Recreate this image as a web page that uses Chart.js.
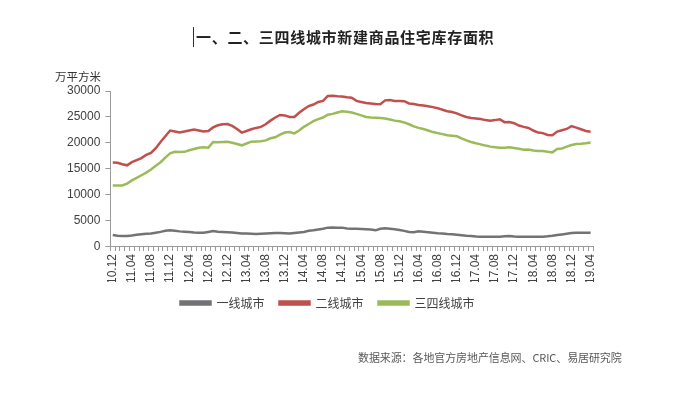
<!DOCTYPE html>
<html>
<head>
<meta charset="utf-8">
<script src="https://cdn.jsdelivr.net/npm/chart.js@4"></script>
<style>
  html, body { margin: 0; padding: 0; background: #fff; }
  #wrap { position: relative; width: 691px; height: 396px; overflow: hidden; }
  #chart { position: absolute; left: 0; top: 0; }
  .txt { position: absolute; font-family: 'Noto Sans CJK SC', 'Noto Sans', sans-serif; white-space: nowrap; }
  #title { left: 193px; top: 27px; font-size: 15px; font-weight: 700; color: #222;
           letter-spacing: 0.7px; border-left: 1px solid #333; padding-left: 2px; line-height: 20px; }
  #unit { left: 55px; top: 68px; font-size: 11.5px; color: #333; }
  #source { left: 358px; top: 349px; font-size: 11px; color: #595959; letter-spacing: -0.1px; }
</style>
</head>
<body>
<div id="wrap">
  <canvas id="chart" width="656" height="396"></canvas>
  <div class="txt" id="title">一、二、三四线城市新建商品住宅库存面积</div>
  <div class="txt" id="unit">万平方米</div>
  <div class="txt" id="source">数据来源：各地官方房地产信息网、CRIC、易居研究院</div>
</div>
<script>
// ── Data (monthly, 2010.12 → 2019.04) ─────────────────────────────────────
const months = [];
for (let y = 10; y <= 19; y++) {
  for (let m = 1; m <= 12; m++) {
    if (y === 10 && m < 12) continue;
    if (y === 19 && m > 4) break;
    months.push(y + '.' + String(m).padStart(2, '0'));
  }
}

const tier1 = [
  2290, 2150, 2090, 2100, 2200, 2350, 2450, 2550, 2600, 2750,
  2900, 3100, 3200, 3100, 3000, 2950, 2900, 2800, 2750, 2750,
  2900, 3050, 2950, 2900, 2850, 2800, 2700, 2600, 2580, 2550,
  2500, 2550, 2600, 2650, 2700, 2700, 2650, 2600, 2700, 2800,
  2900, 3100, 3200, 3350, 3500, 3720, 3750, 3700, 3720, 3550,
  3500, 3500, 3450, 3400, 3350, 3200, 3500, 3600, 3500, 3400,
  3250, 3100, 2900, 2850, 3000, 2950, 2850, 2750, 2650, 2600,
  2500, 2450, 2350, 2250, 2150, 2100, 2000, 1960, 1960, 1960,
  1960, 1980, 2050, 2100, 2000, 1980, 1960, 1960, 1960, 1960,
  1980, 2050, 2150, 2300, 2420, 2550, 2700, 2740, 2740, 2740,
  2740,
];

const tier2 = [
  16270, 16200, 15900, 15700, 16300, 16700, 17100, 17700, 18100, 19000,
  20200, 21300, 22400, 22200, 22000, 22200, 22400, 22600, 22400, 22200,
  22300, 23000, 23400, 23600, 23650, 23300, 22700, 22000, 22300, 22650,
  22900, 23100, 23600, 24300, 24900, 25400, 25300, 25000, 25000, 25800,
  26500, 27100, 27400, 27900, 28100, 29050, 29100, 29000, 28950, 28800,
  28700, 28100, 27900, 27700, 27600, 27500, 27450, 28200, 28250, 28100,
  28100, 28050, 27600, 27500, 27300, 27200, 27050, 26900, 26700, 26400,
  26100, 25950, 25700, 25300, 25000, 24800, 24700, 24600, 24400, 24300,
  24400, 24550, 24000, 24050, 23800, 23350, 23100, 22900, 22400, 22000,
  21900, 21550, 21500, 22200, 22450, 22700, 23250, 22950, 22650, 22300,
  22150,
];

const tier34 = [
  11820, 11800, 11820, 12200, 12800, 13300, 13800, 14300, 14900, 15600,
  16300, 17200, 18000, 18300, 18250, 18300, 18600, 18850, 19100, 19200,
  19100, 20200, 20150, 20200, 20250, 20050, 19800, 19550, 19900, 20250,
  20300, 20350, 20500, 20900, 21100, 21600, 22000, 22100, 21850, 22400,
  23100, 23650, 24200, 24600, 24900, 25450, 25600, 25850, 26100, 26000,
  25850, 25600, 25300, 25000, 24900, 24850, 24820, 24700, 24500, 24300,
  24170, 23950, 23600, 23200, 22900, 22700, 22400, 22100, 21900, 21700,
  21500, 21400, 21300, 20900, 20500, 20200, 19950, 19730, 19500, 19300,
  19200, 19100, 19080, 19200, 19050, 18900, 18700, 18750, 18550, 18450,
  18450, 18300, 18200, 18850, 18950, 19300, 19600, 19800, 19850, 19950,
  20100,
];

const seriesNames = ['一线城市', '二线城市', '三四线城市'];
const yTicks = [0, 5000, 10000, 15000, 20000, 25000, 30000];

const C = {
  tier1:  '#727375',
  tier2:  '#c0504d',
  tier34: '#9bbb59',
  axis:   '#9a9a9a',
  label:  '#404040',
};
const FONT = "'Liberation Sans', 'Noto Sans', sans-serif";
const CJK  = "'Noto Sans CJK SC', 'Noto Sans', sans-serif";

function line(label, data, color) {
  return {
    label, data,
    borderColor: color,
    backgroundColor: color,
    borderWidth: 2.5,
    pointRadius: 0,
    tension: 0,
    fill: false,
  };
}

new Chart(document.getElementById('chart'), {
  type: 'line',
  data: {
    labels: months,
    datasets: [
      line(seriesNames[0], tier1, C.tier1),
      line(seriesNames[1], tier2, C.tier2),
      line(seriesNames[2], tier34, C.tier34),
    ],
  },
  options: {
    responsive: false,
    animation: false,
    layout: { padding: { top: 91, right: 63, bottom: 77, left: 62 } },
    plugins: {
      legend: {
        position: 'bottom',
        labels: {
          boxWidth: 30,
          boxHeight: 3,
          padding: 15,
          color: C.label,
          font: { family: CJK, size: 12 },
        },
      },
      tooltip: { enabled: false },
    },
    scales: {
      x: {
        offset: true,
        afterFit: s => { s.height -= 5; },
        grid: { drawOnChartArea: false, drawTicks: true, tickLength: 4, color: C.axis, offset: true },
        border: { color: C.axis },
        ticks: {
          autoSkip: false,
          maxRotation: 90,
          minRotation: 90,
          padding: 3,
          color: C.label,
          font: { family: FONT, size: 12 },
          callback: (v, i) => (i % 4 === 0 ? months[i] : ''),
        },
      },
      y: {
        min: 0,
        max: 30000,
        afterBuildTicks: axis => { axis.ticks = yTicks.map(value => ({ value })); },
        grid: { drawOnChartArea: false, drawTicks: true, tickLength: 5, color: C.axis },
        border: { color: C.axis },
        ticks: {
          padding: 5,
          color: C.label,
          font: { family: FONT, size: 12 },
          callback: v => String(v),
        },
      },
    },
  },
});
</script>
</body>
</html>
